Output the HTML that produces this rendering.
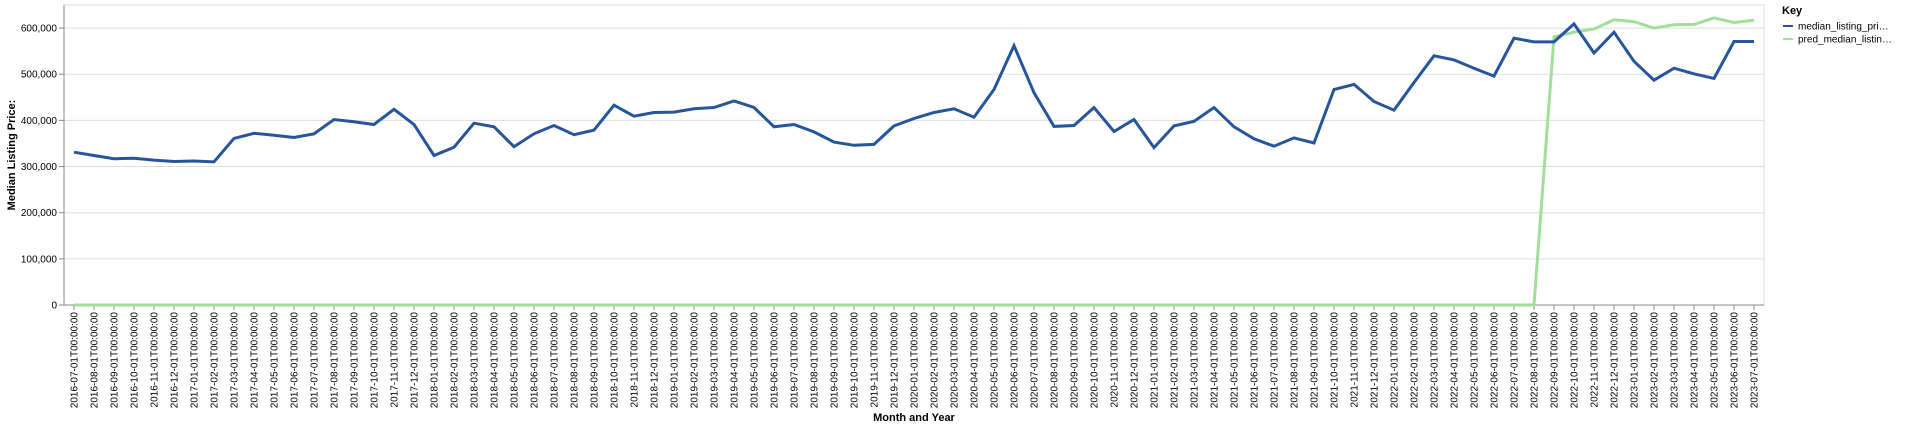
<!DOCTYPE html>
<html><head><meta charset="utf-8"><style>
body{margin:0;background:#fff;font-family:"Liberation Sans",Arial,sans-serif}
svg text{font-family:"Liberation Sans",Arial,sans-serif}
</style></head><body>
<svg id="chart" width="1920" height="429"></svg>
<script>
const values=[331,324,317,318,314,311,312,310,361,372,368,363,371,402,397,391,424,391,324,342,394,386,343,371,389,369,379,433,409,417,418,425,428,442,428,386,391,375,353,346,348,388,404,417,425,407,467,562,460,387,389,428,376,402,341,388,398,428,386,360,344,362,351,467,478,441,422,482,540,531,513,496,578,570,570,609,546,591,528,487,513,501,491,571,571];
const preds=[0,0,0,0,0,0,0,0,0,0,0,0,0,0,0,0,0,0,0,0,0,0,0,0,0,0,0,0,0,0,0,0,0,0,0,0,0,0,0,0,0,0,0,0,0,0,0,0,0,0,0,0,0,0,0,0,0,0,0,0,0,0,0,0,0,0,0,0,0,0,0,0,0,0,581,591,598,618,614,600,607,608,622,612,617];
const yTicks=[0,100000,200000,300000,400000,500000,600000];
const categories=[];
for(let y=2016,m=7;categories.length<85;){categories.push(y+'-'+String(m).padStart(2,'0')+'-01T00:00:00');m++;if(m>12){m=1;y++;}}
const NS='http://www.w3.org/2000/svg';
const svg=document.getElementById('chart');
const L=64,R=1764,T=5,B=305,step=(R-L)/categories.length;
const xs=i=>L+step*(i+0.5);
const ys=v=>B-(v/650000)*(B-T);
function mk(t,a,p){const e=document.createElementNS(NS,t);for(const k in a)e.setAttribute(k,a[k]);(p||svg).appendChild(e);return e;}
mk('rect',{x:L,y:T,width:R-L,height:B-T,fill:'none',stroke:'#ddd'});
yTicks.forEach(v=>{
 const g=mk('line',{x1:L,x2:R,y1:ys(v),y2:ys(v),stroke:'#ddd'});
 
 
 mk('line',{x1:L-5,x2:L,y1:ys(v),y2:ys(v),stroke:'#888'});
 const t=mk('text',{x:L-7,y:ys(v)+3.5,'text-anchor':'end','font-size':10,fill:'#000'});
 t.textContent=v.toLocaleString('en-US');
 
 
});
mk('line',{x1:L,x2:L,y1:T,y2:B,stroke:'#888'});
mk('line',{x1:L,x2:R,y1:B,y2:B,stroke:'#888'});
categories.forEach((c,i)=>{
 const x=xs(i);
 mk('line',{x1:x,x2:x,y1:B,y2:B+5,stroke:'#888'});
 const t=mk('text',{transform:`translate(${x+3.5},${B+7}) rotate(-90)`,'text-anchor':'end','font-size':10,fill:'#000'});
 t.textContent=c;
 
 
});
function line(arr,color,name){
 const d=arr.map((v,i)=>(i?'L':'M')+xs(i).toFixed(1)+','+ys(v*1000).toFixed(1)).join('');
 const p=mk('path',{d:d,fill:'none',stroke:color,'stroke-width':3,'stroke-linejoin':'miter'});
 
 
}
line(preds,'#a3dd9c','pred-median-line');
line(values,'#27559b','median-listing-price-line');
const yt=mk('text',{transform:`translate(15,${(T+B)/2}) rotate(-90)`,'text-anchor':'middle','font-size':11,'font-weight':'bold'});
yt.textContent='Median Listing Price:';


const xt=mk('text',{x:(L+R)/2,y:421,'text-anchor':'middle','font-size':11,'font-weight':'bold'});
xt.textContent='Month and Year';


const kt=mk('text',{x:1782,y:14,'font-size':11,'font-weight':'bold'});
kt.textContent='Key';


[['median_listing_pri…','#27559b'],['pred_median_listin…','#a3dd9c']].forEach((e,i)=>{
 const y=26+i*13;
 const s=mk('line',{x1:1783,x2:1793,y1:y,y2:y,stroke:e[1],'stroke-width':2});
 
 
 const t=mk('text',{x:1798,y:y+3.5,'font-size':10});
 t.textContent=e[0];
 
 
});
</script>
</body></html>
